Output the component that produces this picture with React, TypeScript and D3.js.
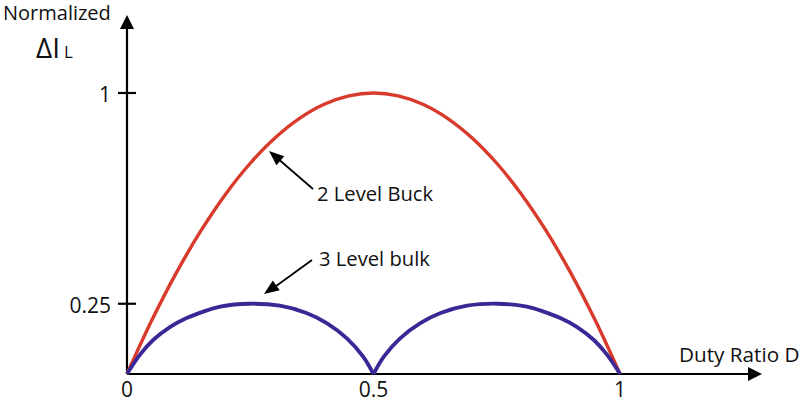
import React, { useEffect } from "react";
import * as d3 from "d3";

// Duty ratio samples (x) and read values (normalized ΔIL)
const dutyTwoLevel = [0, 0.05, 0.1, 0.15, 0.2, 0.25, 0.3, 0.35, 0.4, 0.45, 0.5, 0.55, 0.6, 0.65, 0.7, 0.75, 0.8, 0.85, 0.9, 0.95, 1];
const rippleTwoLevel = [0, 0.19, 0.36, 0.51, 0.64, 0.75, 0.84, 0.91, 0.96, 0.99, 1.0, 0.99, 0.96, 0.91, 0.84, 0.75, 0.64, 0.51, 0.36, 0.19, 0];

const dutyThreeLeft = [0, 0.026, 0.053, 0.087, 0.121, 0.155, 0.189, 0.249, 0.31, 0.364, 0.405, 0.446, 0.479, 0.5];
const rippleThreeLeft = [0, 0.068, 0.121, 0.167, 0.199, 0.222, 0.24, 0.25, 0.243, 0.217, 0.181, 0.127, 0.062, 0];
const dutyThreeRight = [0.5, 0.521, 0.554, 0.595, 0.636, 0.69, 0.751, 0.811, 0.845, 0.879, 0.913, 0.947, 0.974, 1];
const rippleThreeRight = [0, 0.062, 0.127, 0.181, 0.217, 0.243, 0.25, 0.24, 0.222, 0.199, 0.167, 0.121, 0.068, 0];

const yTicks = [0.25, 1];
const yTickLabels = ["0.25", "1"];
const xTicks = [0, 0.5, 1];
const xTickLabels = ["0", "0.5", "1"];

const FONT = "'Open Sans', Lato, sans-serif";
const RED = "#d83a2c";
const BLUE = "#3b2896";
const INK = "#111";

export default function App() {
  useEffect(() => {
    document.body.style.margin = "0";
  }, []);

  const x = d3.scaleLinear().domain([0, 1]).range([127, 620]);
  const y = d3.scaleLinear().domain([0, 1]).range([374, 93]);

  const line = d3
    .line<[number, number]>()
    .x((d) => x(d[0]))
    .y((d) => y(d[1]))
    .curve(d3.curveCatmullRom.alpha(0.5));

  const redPts = dutyTwoLevel.map((d, i) => [d, rippleTwoLevel[i]] as [number, number]);
  const blueL = dutyThreeLeft.map((d, i) => [d, rippleThreeLeft[i]] as [number, number]);
  const blueR = dutyThreeRight.map((d, i) => [d, rippleThreeRight[i]] as [number, number]);

  const x0 = x(0);
  const y0 = y(0);
  const xEnd = 762;
  const yTop = 15;

  const arrowHead = (x1: number, y1: number, x2: number, y2: number, len = 14, half = 5.5) => {
    const a = Math.atan2(y2 - y1, x2 - x1);
    const bx = x2 - len * Math.cos(a);
    const by = y2 - len * Math.sin(a);
    const px = -Math.sin(a) * half;
    const py = Math.cos(a) * half;
    return `M${x2},${y2}L${bx + px},${by + py}L${bx - px},${by - py}Z`;
  };

  return (
    <svg width={800} height={402} style={{ display: "block", background: "#fff" }}>
      {/* Axes */}
      <line x1={x0} y1={y0} x2={xEnd - 10} y2={y0} stroke="#000" strokeWidth={2.2} />
      <path d={arrowHead(x0, y0, xEnd, y0, 14, 7)} fill="#000" />
      <line x1={x0} y1={y0} x2={x0} y2={yTop + 10} stroke="#000" strokeWidth={2.2} />
      <path d={arrowHead(x0, y0, x0, yTop, 14, 7)} fill="#000" />

      {yTicks.map((t, i) => (
        <g key={"yt" + i}>
          <line x1={x0 - 9} x2={x0 + 9} y1={y(t)} y2={y(t)} stroke="#000" strokeWidth={2.2} />
          <text x={x0 - 16} y={y(t) + 9} textAnchor="end" fontFamily={FONT} fontSize={21} fill={INK}>
            {yTickLabels[i]}
          </text>
        </g>
      ))}
      {xTicks.map((t, i) => (
        <text key={"xt" + i} x={x(t)} y={397} textAnchor="middle" fontFamily={FONT} fontSize={21} fill={INK}>
          {xTickLabels[i]}
        </text>
      ))}

      {/* Curves */}
      <path d={line(redPts) || ""} fill="none" stroke={RED} strokeWidth={3.4} />
      <path d={line(blueL) || ""} fill="none" stroke={BLUE} strokeWidth={3.8} />
      <path d={line(blueR) || ""} fill="none" stroke={BLUE} strokeWidth={3.8} />

      {/* Titles */}
      <text x={3} y={20} fontFamily={FONT} fontSize={20} fill={INK}>Normalized</text>
      <text x={36} y={58} fontFamily={FONT} fontSize={28} fill={INK}>
        ΔI<tspan fontSize={17} dx={4}>L</tspan>
      </text>
      <text x={679} y={362} fontFamily={FONT} fontSize={20.7} fill={INK}>Duty Ratio D</text>

      {/* Annotations */}
      <line x1={313} y1={189} x2={276} y2={157} stroke="#000" strokeWidth={1.8} />
      <path d={arrowHead(313, 189, 269, 151, 15, 6)} fill="#000" />
      <text x={317} y={201} fontFamily={FONT} fontSize={20.2} fill={INK}>2 Level Buck</text>

      <line x1={312} y1={260} x2={272} y2={289} stroke="#000" strokeWidth={1.8} />
      <path d={arrowHead(312, 260, 264, 294, 15, 6)} fill="#000" />
      <text x={319} y={266} fontFamily={FONT} fontSize={20.2} fill={INK}>3 Level bulk</text>
    </svg>
  );
}
